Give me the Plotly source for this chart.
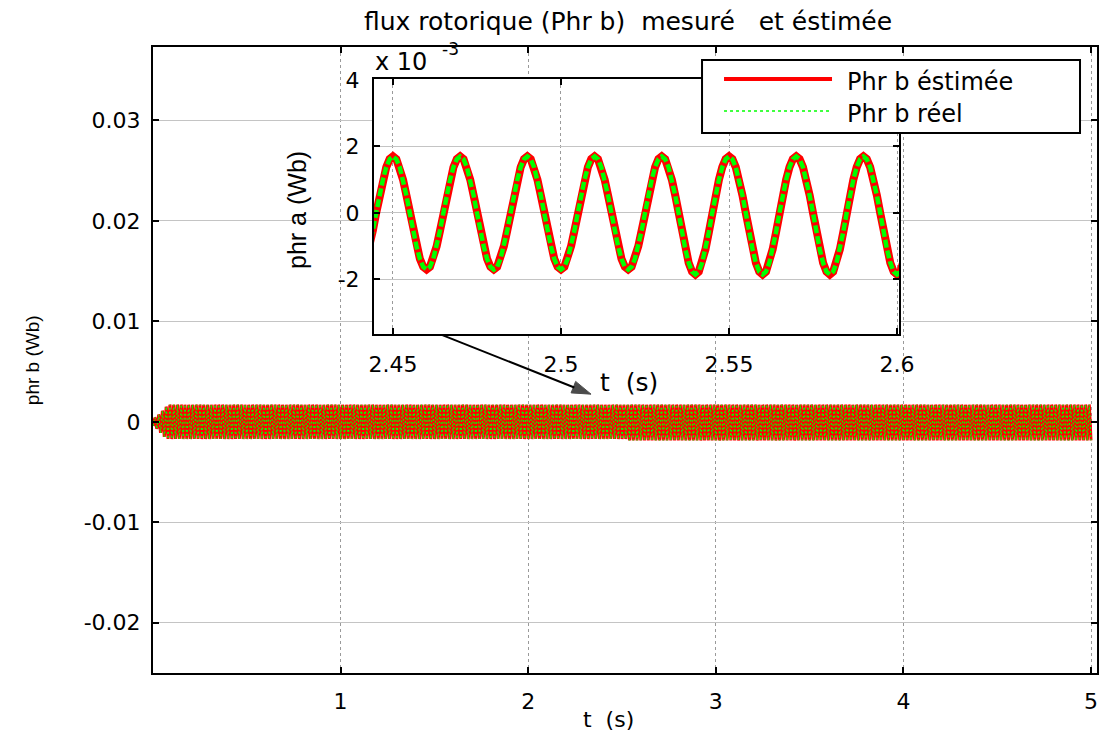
import numpy as np
import plotly.graph_objects as go

# ---------------------------------------------------------------------------
# Data
# ---------------------------------------------------------------------------
# One 50 Hz period of rotor flux phr b (mWb), sampled every 1 ms, starting at a trough
cycle_estimee_mWb = [-1.70, -1.62, -1.38, -1.00, -0.53, 0.00, 0.53, 1.00, 1.38, 1.62,
                     1.70, 1.62, 1.38, 1.00, 0.53, 0.00, -0.53, -1.00, -1.38, -1.62]
cycle_reel_mWb = [-1.70, -1.62, -1.38, -1.00, -0.53, 0.00, 0.53, 1.00, 1.38, 1.62,
                  1.70, 1.62, 1.38, 1.00, 0.53, 0.00, -0.53, -1.00, -1.38, -1.62]

# Peak envelope (Wb) for each time segment: start-up build-up, then steady state
seg_start_s = [0.00, 0.02, 0.04, 0.06, 0.08, 2.53]
seg_peak_pos = [0.0004, 0.0007, 0.0011, 0.0015, 0.0017, 0.0017]
seg_peak_neg = [0.0004, 0.0007, 0.0011, 0.0015, 0.0017, 0.00185]

sample_step_s = 0.001
t_end_s = 5.0

# Pointer from the zoom window down to the signal band (t in s, flux in Wb)
pointer_t = [1.519, 2.335]
pointer_phr = [0.0088, 0.00275]

# Axis ticks
main_x_ticks = [1, 2, 3, 4, 5]
main_y_ticks = [-0.02, -0.01, 0.0, 0.01, 0.02, 0.03]
main_y_labels = ["-0.02", "-0.01", "0", "0.01", "0.02", "0.03"]
inset_x_ticks = [2.45, 2.5, 2.55, 2.6]
inset_x_labels = ["2.45", "2.5", "2.55", "2.6"]
inset_y_ticks = [-0.002, 0.0, 0.002, 0.004]
inset_y_labels = ["-2", "0", "2", "4"]


def build_signal(cycle_mWb):
    n = int(round(t_end_s / sample_step_s)) + 1
    t = np.arange(n) * sample_step_s
    shape = np.resize(np.array(cycle_mWb) / max(cycle_mWb), n)
    seg = np.searchsorted(np.array(seg_start_s), t + 1e-9, side="right") - 1
    pos = np.array(seg_peak_pos)[seg]
    neg = np.array(seg_peak_neg)[seg]
    return t, np.where(shape >= 0, shape * pos, shape * neg)


t, phr_est = build_signal(cycle_estimee_mWb)
_, phr_reel = build_signal(cycle_reel_mWb)

zoom_mask = (t >= 2.44) & (t <= 2.605)

RED = "#ff0000"
GREEN = "#00ff00"
FONT = "DejaVu Sans"

fig = go.Figure()

# Full-length traces
fig.add_trace(go.Scatter(x=t, y=phr_est, mode="lines",
                         line=dict(color=RED, width=3), showlegend=False,
                         xaxis="x", yaxis="y"))
fig.add_trace(go.Scatter(x=t, y=phr_reel, mode="lines",
                         line=dict(color=GREEN, width=1.2, dash="2px,2px"),
                         showlegend=False, xaxis="x", yaxis="y"))

# Pointer arrow
fig.add_trace(go.Scatter(x=pointer_t, y=pointer_phr, mode="lines+markers",
                         line=dict(color="black", width=2),
                         marker=dict(symbol=["circle", "arrow"], size=[0, 20],
                                     angleref="previous", color="black",
                                     line=dict(width=1, color="black")),
                         showlegend=False, hoverinfo="skip",
                         xaxis="x", yaxis="y"))

# Zoomed inset traces
fig.add_trace(go.Scatter(x=t[zoom_mask], y=phr_est[zoom_mask], mode="lines",
                         line=dict(color=RED, width=8), showlegend=False,
                         xaxis="x2", yaxis="y2"))
fig.add_trace(go.Scatter(x=t[zoom_mask], y=phr_reel[zoom_mask], mode="lines",
                         line=dict(color=GREEN, width=4.5, dash="8px,3px"),
                         showlegend=False, xaxis="x2", yaxis="y2"))

axis_common = dict(
    showline=True, linecolor="black", linewidth=2, mirror="allticks",
    ticks="inside", ticklen=6, tickwidth=1.5, tickcolor="black",
    showgrid=True, zeroline=False, automargin=False,
    tickfont=dict(family=FONT, size=22, color="black"),
)

inset_x = [0.2341, 0.7903]
inset_y = [0.5415, 0.9489]

fig.update_layout(
    template="none",
    width=1107, height=740,
    margin=dict(l=153, r=10, t=47, b=67, autoexpand=False),
    paper_bgcolor="white", plot_bgcolor="white",
    showlegend=False,
    xaxis=dict(axis_common, domain=[0, 1], range=[0, 5.032],
               tickvals=main_x_ticks, ticktext=[str(v) for v in main_x_ticks],
               gridcolor="#9a9a9a", griddash="dot", gridwidth=1,
               ticklabelstandoff=8, anchor="y"),
    yaxis=dict(axis_common, domain=[0, 1], range=[-0.0250, 0.0373],
               tickvals=main_y_ticks, ticktext=main_y_labels,
               gridcolor="#c4c4c4", gridwidth=1,
               ticklabelstandoff=6, anchor="x"),
    xaxis2=dict(axis_common, domain=inset_x, range=[2.44435, 2.6006],
                tickvals=inset_x_ticks, ticktext=inset_x_labels,
                gridcolor="#9a9a9a", griddash="dot", gridwidth=1,
                ticklabelstandoff=10, anchor="y2"),
    yaxis2=dict(axis_common, domain=inset_y, range=[-0.00364, 0.00403],
                tickvals=inset_y_ticks, ticktext=inset_y_labels,
                gridcolor="#c4c4c4", gridwidth=1,
                ticklabelstandoff=8, anchor="x2"),
)

annotations = [
    # title
    dict(text="flux rotorique (Phr b)  mesuré   et éstimée", x=0.503, y=1.040,
         xref="paper", yref="paper", showarrow=False, xanchor="center", yanchor="middle",
         font=dict(family=FONT, size=25, color="black")),
    # main axis titles
    dict(text="t  (s)", x=0.482, y=-0.075, xref="paper", yref="paper", showarrow=False,
         xanchor="center", yanchor="middle", font=dict(family=FONT, size=22, color="black")),
    dict(text="phr b (Wb)", x=-0.128, y=0.5, xref="paper", yref="paper", showarrow=False,
         textangle=-90, xanchor="center", yanchor="middle",
         font=dict(family="Liberation Sans", size=19, color="black")),
    # inset axis titles and exponent
    dict(text="t  (s)", x=0.5039, y=0.4633, xref="paper", yref="paper", showarrow=False,
         xanchor="center", yanchor="middle", font=dict(family=FONT, size=25, color="black")),
    dict(text="phr a (Wb)", x=0.1525, y=0.7396, xref="paper", yref="paper", showarrow=False,
         textangle=-90, xanchor="center", yanchor="middle",
         font=dict(family="Liberation Sans", size=25, color="black")),
    dict(text="x 10", x=0.2331, y=0.9760, xref="paper", yref="paper",
         showarrow=False, xanchor="left", yanchor="middle",
         font=dict(family=FONT, size=24, color="black")),
    dict(text="-3", x=0.3040, y=0.9975, xref="paper", yref="paper",
         showarrow=False, xanchor="left", yanchor="middle",
         font=dict(family=FONT, size=17, color="black")),
    # legend entries
    dict(text="Phr b éstimée", x=0.7331, y=0.9441, xref="paper", yref="paper",
         showarrow=False, xanchor="left", yanchor="middle",
         font=dict(family=FONT, size=24, color="black")),
    dict(text="Phr b réel", x=0.7331, y=0.8930, xref="paper", yref="paper",
         showarrow=False, xanchor="left", yanchor="middle",
         font=dict(family=FONT, size=24, color="black")),
]
fig.update_layout(annotations=annotations)

shapes = [
    dict(type="rect", xref="paper", yref="paper", x0=0.5816, x1=0.9820, y0=0.8626, y1=0.9792,
         fillcolor="white", line=dict(color="black", width=2), layer="above"),
    dict(type="line", xref="paper", yref="paper", x0=0.6049, x1=0.7193, y0=0.9489, y1=0.9489,
         line=dict(color=RED, width=4), layer="above"),
    dict(type="line", xref="paper", yref="paper", x0=0.6049, x1=0.7193, y0=0.8978, y1=0.8978,
         line=dict(color=GREEN, width=1.5, dash="dot"), layer="above"),
]
fig.update_layout(shapes=shapes)

fig.write_html("out.html")
